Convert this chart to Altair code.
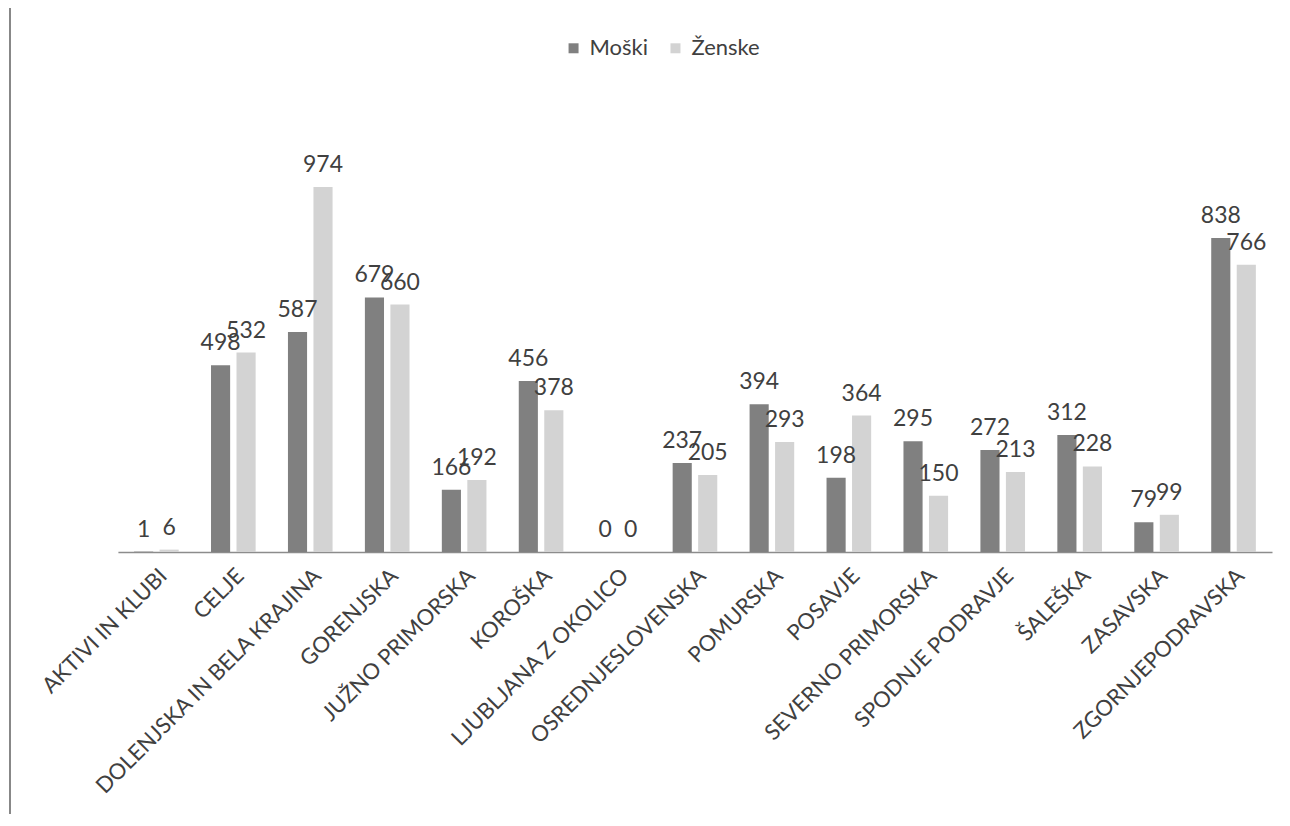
import altair as alt
import pandas as pd

categories = ["AKTIVI IN KLUBI", "CELJE", "DOLENJSKA IN BELA KRAJINA", "GORENJSKA",
              "JUŽNO PRIMORSKA", "KOROŠKA", "LJUBLJANA Z OKOLICO", "OSREDNJESLOVENSKA",
              "POMURSKA", "POSAVJE", "SEVERNO PRIMORSKA", "SPODNJE PODRAVJE",
              "ŠALEŠKA", "ZASAVSKA", "ZGORNJEPODRAVSKA"]
moski = [1, 498, 587, 679, 166, 456, 0, 237, 394, 198, 295, 272, 312, 79, 838]
zenske = [6, 532, 974, 660, 192, 378, 0, 205, 293, 364, 150, 213, 228, 99, 766]
series = ["Moški", "Ženske"]
colors = ["#808080", "#d3d3d3"]

rows = []
for i, c in enumerate(categories):
    rows.append({"cat": c, "spol": series[0], "val": moski[i]})
    rows.append({"cat": c, "spol": series[1], "val": zenske[i]})
df = pd.DataFrame(rows)

FONT = "Lato"
x = alt.X("cat:N", sort=categories, title=None,
          scale=alt.Scale(paddingInner=0.42, paddingOuter=0.21),
          axis=alt.Axis(labelAngle=-45, labelFontSize=22, labelColor="#404040",
                        labelFont=FONT, labelFontWeight="normal", ticks=False,
                        domainColor="#8c8c8c", domainWidth=1.5, labelPadding=13,
                        labelLimit=500))
xo = alt.XOffset("spol:N", sort=series, scale=alt.Scale(paddingInner=0.25))
y = alt.Y("val:Q", scale=alt.Scale(domain=[0, 1000]), axis=None)

bars = alt.Chart(df).mark_bar().encode(
    x=x, xOffset=xo, y=y,
    color=alt.Color("spol:N", sort=series,
                    scale=alt.Scale(domain=series, range=colors),
                    legend=alt.Legend(title=None, orient="none", direction="horizontal",
                                      legendX=445, legendY=-140, symbolType="square",
                                      symbolSize=100, labelFontSize=22, labelFont=FONT,
                                      labelColor="#404040", columnPadding=16,
                                      labelOffset=5, symbolStrokeWidth=0))
)

labels = alt.Chart(df).mark_text(dy=-22, fontSize=23, font=FONT, color="#404040").encode(
    x=x, xOffset=xo, y=y, text="val:Q"
)

frame_left = alt.Chart(pd.DataFrame({"a": [0]})).mark_rule(color="#606060", strokeWidth=1.5, clip=False).encode(
    x=alt.value(-108), y=alt.value(-175), y2=alt.value(660)
)
frame_top = alt.Chart(pd.DataFrame({"a": [0]})).mark_rule(color="#a0a0a0", strokeWidth=1, clip=False).encode(
    x=alt.value(-108), x2=alt.value(1165), y=alt.value(-175)
)

chart = alt.layer(bars, labels, frame_left, frame_top).properties(
    width=1155, height=375,
    padding={"left": 110, "top": 169, "right": 10, "bottom": 262},
    autosize=alt.AutoSizeParams(type="none"),
    background="white"
).configure_view(strokeWidth=0, stroke=None)

chart.save("out.html", embed_options={"renderer": "svg", "actions": False})
